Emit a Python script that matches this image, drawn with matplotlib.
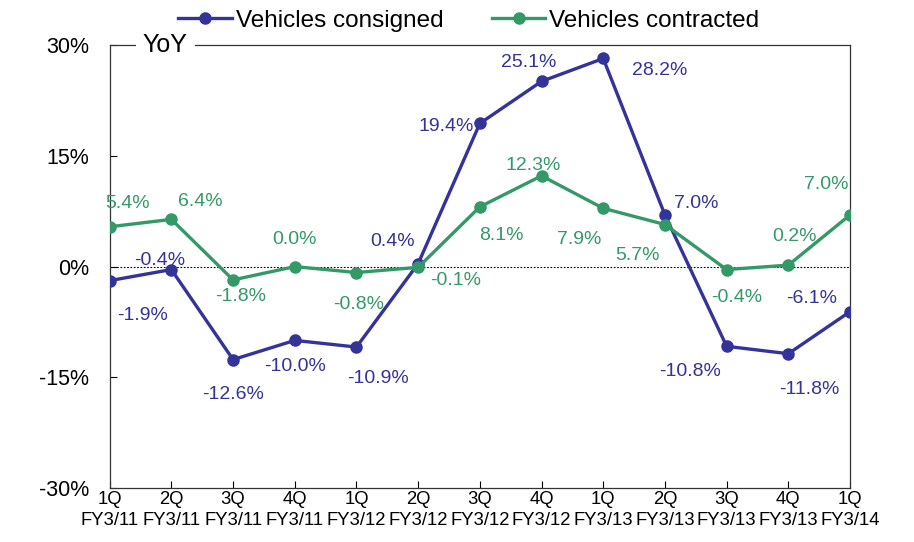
import matplotlib.pyplot as plt

plt.rcParams['font.family'] = ['Liberation Sans', 'DejaVu Sans']

# Data
quarters = ['1Q', '2Q', '3Q', '4Q', '1Q', '2Q', '3Q', '4Q', '1Q', '2Q', '3Q', '4Q', '1Q']
fiscal_years = ['FY3/11'] * 4 + ['FY3/12'] * 4 + ['FY3/13'] * 4 + ['FY3/14']
consigned = [-1.9, -0.4, -12.6, -10.0, -10.9, 0.4, 19.4, 25.1, 28.2, 7.0, -10.8, -11.8, -6.1]
contracted = [5.4, 6.4, -1.8, 0.0, -0.8, -0.1, 8.1, 12.3, 7.9, 5.7, -0.4, 0.2, 7.0]

# label offsets in pixels (dx, dy up)
off_consigned = [(33, -35), (-12, 9), (0, -35), (0, -26), (22, -31), (-26, 22), (-34, -3),
                 (-13, 19), (56, -12), (31, 11), (-37, -25), (21, -36), (-38, 13)]
off_contracted = [(18, 23), (29, 18), (8, -17), (0, 27), (2, -32), (37, -13), (22, -29),
                  (-8, 10), (-24, -31), (-27, -31), (10, -28), (6, 29), (-24, 30)]

blue = '#333399'
green = '#339966'

fig = plt.figure(figsize=(9.14, 5.42), dpi=100)
ax = fig.add_axes([0.120, 0.0996, 0.810, 0.817])

x = list(range(len(quarters)))
ax.plot(x, consigned, color=blue, lw=2.4, marker='o', ms=8, label='Vehicles consigned', zorder=3)
ax.plot(x, contracted, color=green, lw=2.4, marker='o', ms=8, label='Vehicles contracted', zorder=3)
ax.axhline(0, color='black', lw=0.8, ls=(0, (1.5, 1.5)), zorder=1)

for xi, v, (dx, dy) in zip(x, consigned, off_consigned):
    ax.annotate(f'{v:.1f}%', (xi, v), xytext=(dx, dy), textcoords='offset pixels',
                ha='center', va='center', fontsize=14, color=blue)
for xi, v, (dx, dy) in zip(x, contracted, off_contracted):
    ax.annotate(f'{v:.1f}%', (xi, v), xytext=(dx, dy), textcoords='offset pixels',
                ha='center', va='center', fontsize=14, color=green)

ax.set_xlim(0, 12)
ax.set_ylim(-30, 30)
ax.set_yticks([-30, -15, 0, 15, 30])
ax.set_yticklabels(['-30%', '-15%', '0%', '15%', '30%'], fontsize=15.5)
ax.set_xticks(x)
ax.set_xticklabels([f'{q}\n{fy}' for q, fy in zip(quarters, fiscal_years)], fontsize=13.3,
                   linespacing=1.3)
ax.tick_params(direction='in', length=5, width=0.8)
ax.tick_params(axis='x', pad=2)
ax.tick_params(axis='y', pad=15)
for s in ax.spines.values():
    s.set_linewidth(0.9)
    s.set_color('#333333')

ax.text(0.075, 1.0, 'YoY', transform=ax.transAxes, ha='center', va='center', fontsize=18,
        bbox=dict(facecolor='white', edgecolor='none', pad=5))

ax.legend(loc='lower center', bbox_to_anchor=(0.485, 1.03), ncol=2, frameon=False,
          fontsize=17.5, handlelength=2.2, handletextpad=0.15, columnspacing=2.0,
          borderaxespad=0, borderpad=0)

fig.savefig('out.png', dpi=100)
